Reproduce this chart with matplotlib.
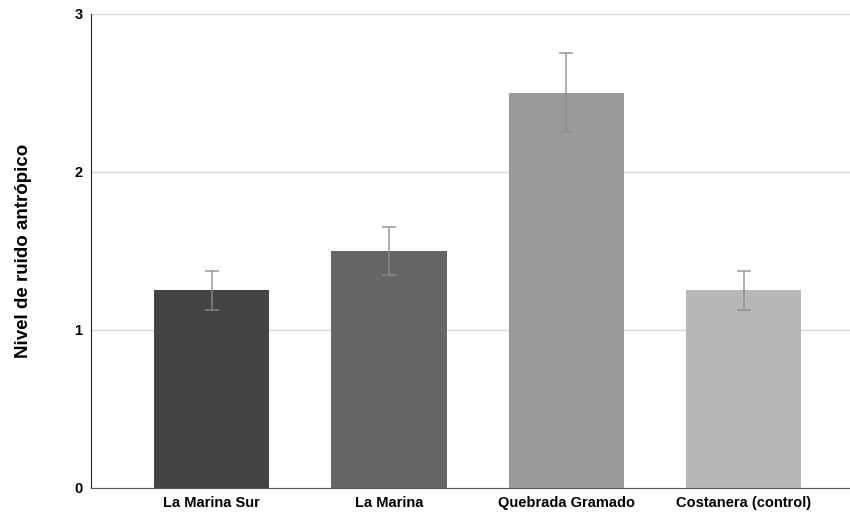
import matplotlib
matplotlib.use("Agg")
import matplotlib.pyplot as plt

sites = ["La Marina Sur", "La Marina", "Quebrada Gramado", "Costanera (control)"]
noise_level = [1.25, 1.5, 2.5, 1.25]
noise_err = [0.125, 0.15, 0.25, 0.125]
bar_colors = ["#444444", "#666666", "#999999", "#b7b7b7"]

plt.rcParams['font.family'] = ['Liberation Sans', 'DejaVu Sans']

fig = plt.figure(figsize=(8.5, 5.14), dpi=100)
ax = fig.add_axes([0.107, 0.0506, 0.893, 0.9222])

x = range(len(sites))
ax.bar(x, noise_level, width=0.65, color=bar_colors, zorder=2)
ax.errorbar(x, noise_level, yerr=noise_err, fmt='none', ecolor='#8d8d8d', alpha=0.7,
            elinewidth=1.4, capsize=4.7, capthick=1.4, zorder=3)

ax.set_ylim(0, 3)
ax.set_xlim(-0.68, 3.6)
ax.set_yticks([0, 1, 2, 3])
ax.set_yticklabels(["0", "1", "2", "3"], fontweight='bold', fontsize=10.5)
ax.set_xticks(list(x))
ax.set_xticklabels(sites, fontweight='bold', fontsize=10.5)
ax.tick_params(axis='both', length=0)
ax.tick_params(axis='x', pad=6)
ax.tick_params(axis='y', pad=6)

ax.grid(axis='y', color='#d9d9d9', linewidth=1, zorder=0)
ax.set_axisbelow(True)
for s in ['top', 'right']:
    ax.spines[s].set_visible(False)
ax.spines['left'].set_color('#222222')
ax.spines['bottom'].set_color('#555555')

ax.set_ylabel("Nivel de ruido antrópico", fontsize=13.5, fontweight='bold')
ax.yaxis.set_label_coords(-0.078, 0.5)

fig.savefig("out.png", dpi=100)
